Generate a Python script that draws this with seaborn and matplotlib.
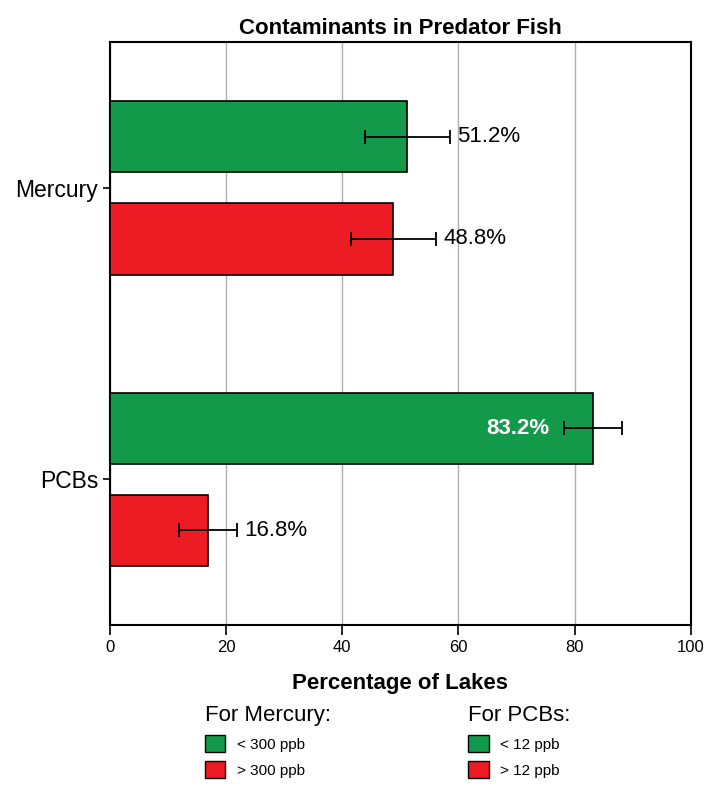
import pandas as pd
import matplotlib.pyplot as plt
from matplotlib.patches import Patch
import seaborn as sns

# valeurs
contaminants = ['Mercury', 'PCBs']
niveaux = ['below', 'above']
pct_below = [51.2, 83.2]
pct_above = [48.8, 16.8]
err_below = [7.3, 5.0]
err_above = [7.3, 5.0]
legende_mercure = ['< 300 ppb', '> 300 ppb']
legende_pcb = ['< 12 ppb', '> 12 ppb']

vert = '#12994a'
rouge = '#ed1c24'

df = pd.DataFrame({
    'Contaminant': contaminants * 2,
    'Niveau': [niveaux[0]] * 2 + [niveaux[1]] * 2,
    'Pct': pct_below + pct_above,
})
erreurs = {niveaux[0]: err_below, niveaux[1]: err_above}

sns.set_style('ticks')
plt.rcParams['font.family'] = ['Liberation Sans', 'DejaVu Sans']
plt.rcParams['text.color'] = 'black'
plt.rcParams['axes.labelcolor'] = 'black'
plt.rcParams['xtick.color'] = 'black'
plt.rcParams['ytick.color'] = 'black'

fig = plt.figure(figsize=(7.21, 7.87), dpi=100)
ax = fig.add_axes([0.1526, 0.2058, 0.8054, 0.7408])

sns.barplot(data=df, x='Pct', y='Contaminant', hue='Niveau', hue_order=niveaux,
            order=contaminants, orient='h', palette=[vert, rouge],
            width=0.7, gap=0.3, errorbar=None, edgecolor='black', linewidth=1.2,
            saturation=1, legend=False, ax=ax, zorder=3)

# barres d'erreur et étiquettes
for cont, niv in zip(ax.containers, niveaux):
    for bar, err in zip(cont, erreurs[niv]):
        v = bar.get_width()
        yc = bar.get_y() + bar.get_height() / 2
        ax.errorbar(v, yc, xerr=err, fmt='none', ecolor='black', elinewidth=1.3,
                    capsize=5, capthick=1.3, zorder=4)
        if v > 70:
            ax.text(v - err - 2.5, yc, f'{v:.1f}%', ha='right', va='center',
                    fontsize=16, color='white', fontweight='bold', zorder=5)
        else:
            ax.text(v + err + 1.3, yc, f'{v:.1f}%', ha='left', va='center',
                    fontsize=16, color='black', zorder=5)

ax.set_xlim(0, 100)
ax.set_ylim(1.5, -0.5)
ax.set_xticks([0, 20, 40, 60, 80, 100])
ax.grid(axis='x', color='#b5adad', linewidth=1, zorder=0)
ax.tick_params(axis='x', labelsize=12, length=7, width=1.2, direction='out', color='black')
ax.tick_params(axis='y', labelsize=16.5, length=5, width=1.2, direction='out', color='black')
for s in ax.spines.values():
    s.set_visible(True)
    s.set_color('black')
    s.set_linewidth(1.5)

ax.set_title('Contaminants in Predator Fish', fontsize=16, fontweight='bold', pad=6)
ax.set_xlabel('Percentage of Lakes', fontsize=16, fontweight='bold')
ax.xaxis.set_label_coords(0.5, -0.082)
ax.set_ylabel('')

# deux légendes séparées
h_m = [Patch(facecolor=vert, edgecolor='black'), Patch(facecolor=rouge, edgecolor='black')]
for pos_x, labels, titre in [(0.284, legende_mercure, 'For Mercury:'),
                             (0.649, legende_pcb, 'For PCBs:')]:
    fig.legend(h_m, labels, title=titre, loc='upper left',
               bbox_to_anchor=(pos_x, 0.104), frameon=False, fontsize=11,
               title_fontsize=16, alignment='left', handlelength=1.35, handleheight=1.3,
               handletextpad=0.75, labelspacing=0.6, borderpad=0, borderaxespad=0)

plt.savefig('out.png', dpi=100)
